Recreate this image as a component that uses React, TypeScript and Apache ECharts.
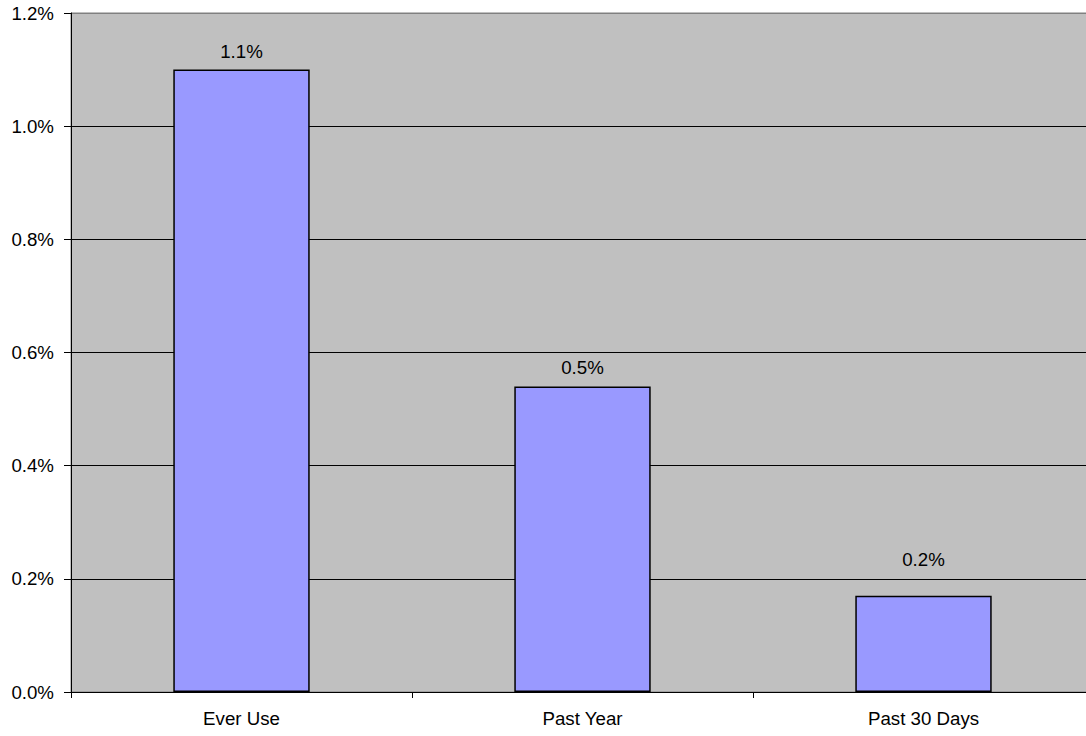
import React, { useEffect, useRef } from "react";
import * as echarts from "echarts";

const categories = ["Ever Use", "Past Year", "Past 30 Days"];
const values = [1.1, 0.54, 0.17];
const yTicks = { min: 0, max: 1.2, interval: 0.2 };

export default function App() {
  const ref = useRef<HTMLDivElement>(null);
  useEffect(() => {
    const chart = echarts.init(ref.current!, null, { renderer: "svg" });
    const font = "'Liberation Sans', Arial, sans-serif";
    const barData = values.map((v, i) =>
      i === 2 ? { value: v, label: { distance: 27 } } : { value: v }
    );
    chart.setOption({
      animation: false,
      grid: {
        left: 71,
        top: 13,
        right: 0,
        bottom: 44,
        show: true,
        backgroundColor: "#C0C0C0",
        borderColor: "#808080",
        borderWidth: 1,
      },
      xAxis: {
        type: "category",
        data: categories,
        axisLine: { lineStyle: { color: "#000", width: 1 } },
        axisTick: { show: true, length: 6, lineStyle: { color: "#000" } },
        axisLabel: { color: "#000", fontSize: 18.7, fontFamily: font, margin: 17 },
      },
      yAxis: {
        type: "value",
        min: yTicks.min,
        max: yTicks.max,
        interval: yTicks.interval,
        axisLine: { show: true, lineStyle: { color: "#000", width: 1 } },
        axisTick: { show: true, length: 7, lineStyle: { color: "#000" } },
        axisLabel: {
          color: "#000",
          fontSize: 18.7,
          fontFamily: font,
          margin: 17,
          formatter: (v: number) => v.toFixed(1) + "%",
        },
        splitLine: {
          show: true,
          lineStyle: {
            color: ["#000", "#000", "#000", "#000", "#000", "#000", "#808080"],
            width: 1,
          },
        },
      },
      series: [
        {
          type: "bar",
          data: barData,
          barWidth: "40%",
          itemStyle: { color: "#9999FF", borderColor: "#000", borderWidth: 1.5 },
          label: {
            show: true,
            position: "top",
            distance: 9,
            color: "#000",
            fontSize: 18.7,
            fontFamily: font,
            formatter: (p: any) => Number(p.value).toFixed(1) + "%",
          },
        },
      ],
    });
    return () => chart.dispose();
  }, []);
  return (
    <div style={{ position: "absolute", left: 0, top: 0, width: 1086, height: 736, overflow: "hidden", background: "#fff" }}>
      <div ref={ref} style={{ width: 1094, height: 736 }} />
    </div>
  );
}
